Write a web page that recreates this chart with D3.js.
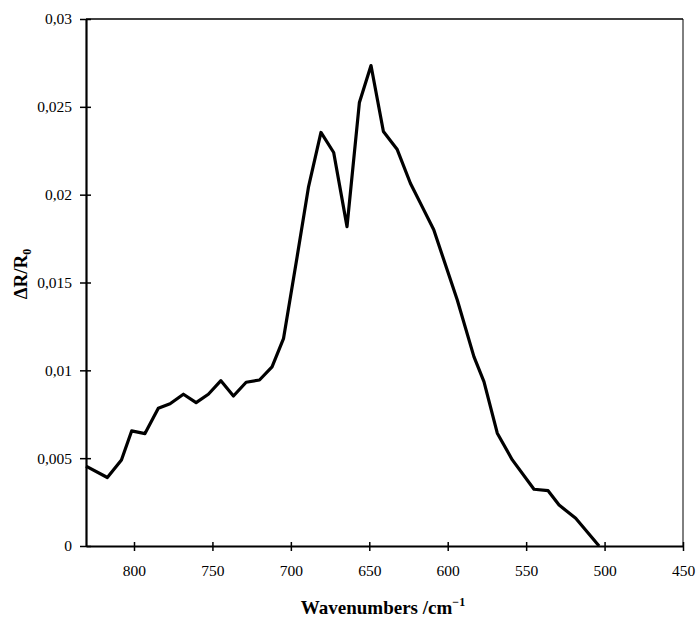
<!DOCTYPE html>
<html>
<head>
<meta charset="utf-8">
<script src="https://cdn.jsdelivr.net/npm/d3@7"></script>
<style>
  body { margin: 0; background: #fff; }
  text { font-family: "Liberation Serif", "DejaVu Serif", serif; fill: #000; }
</style>
</head>
<body>
<div id="chart"></div>
<script>
// spectrum
var wavenumbers = [830.6, 817, 808, 801.5, 793, 784.5, 777, 768.5, 760.4, 752.6, 744.6, 736.6, 728.5, 720, 712, 704.7,
  696, 688.7, 680.8, 672.7, 664.2, 656.3, 648.9, 641, 632.3, 623.8, 616.3, 608.9, 593.9, 583.3, 576.9, 568.4,
  558.8, 545, 536, 529, 518.4, 503.5];
var deltaR = [0.00455, 0.0039, 0.0049, 0.00655, 0.0064, 0.00784, 0.0081, 0.00864, 0.00816, 0.00864, 0.00941, 0.00854,
  0.00932, 0.00945, 0.0102, 0.0118, 0.01647, 0.02046, 0.02354, 0.0224, 0.01818, 0.02525, 0.02735, 0.0236, 0.02259,
  0.02065, 0.01932, 0.018, 0.014, 0.01078, 0.00936, 0.00642, 0.0049, 0.00323, 0.00315, 0.00233, 0.00158, 0];
var xTicks = [800, 750, 700, 650, 600, 550, 500, 450];
var yTicks = [0, 0.005, 0.01, 0.015, 0.02, 0.025, 0.03];

var W = 696, H = 620;
var mLeft = 86, mRight = 683, mTop = 19, mBottom = 546;

var svg = d3.select('#chart').append('svg').attr('width', W).attr('height', H);

var x = d3.scaleLinear().domain([830.6, 450]).range([mLeft, mRight]);
var y = d3.scaleLinear().domain([0, 0.03]).range([mBottom, mTop]);

var comma = function (d) { return String(+d.toFixed(3)).replace('.', ','); };

// frame: thin top and right
svg.append('line').attr('x1', mLeft).attr('x2', mRight).attr('y1', mTop).attr('y2', mTop)
  .attr('stroke', '#000').attr('stroke-width', 1.5);
svg.append('line').attr('x1', mRight).attr('x2', mRight).attr('y1', mTop).attr('y2', mBottom)
  .attr('stroke', '#000').attr('stroke-width', 1);

// x axis
var gx = svg.append('g').attr('transform', 'translate(0,' + mBottom + ')')
  .call(d3.axisBottom(x).tickValues(xTicks).tickSize(0).tickPadding(19));
gx.select('.domain').attr('stroke-width', 2.2);
gx.selectAll('.tick text').attr('font-size', 15.5).attr('font-family', '"Liberation Serif", serif');
gx.selectAll('.tick').append('line').attr('y1', -4).attr('y2', 5).attr('stroke', '#000').attr('stroke-width', 1.5);

// y axis
var gy = svg.append('g').attr('transform', 'translate(' + mLeft + ',0)')
  .call(d3.axisLeft(y).tickValues(yTicks).tickFormat(comma).tickSize(0).tickPadding(14));
gy.select('.domain').attr('stroke-width', 2.2);
gy.selectAll('.tick text').attr('font-size', 15.5).attr('font-family', '"Liberation Serif", serif');
gy.selectAll('.tick').append('line').attr('x1', -6).attr('x2', 5).attr('stroke', '#000').attr('stroke-width', 1.5);

// curve
var pts = wavenumbers.map(function (w, i) { return [w, deltaR[i]]; });
svg.append('path').datum(pts)
  .attr('fill', 'none').attr('stroke', '#000').attr('stroke-width', 3.2).attr('stroke-linejoin', 'round')
  .attr('d', d3.line().x(function (d) { return x(d[0]); }).y(function (d) { return y(d[1]); }));

// axis titles
var xt = svg.append('text').attr('x', 383).attr('y', 614).attr('text-anchor', 'middle')
  .attr('font-size', 19).attr('font-weight', 'bold');
xt.append('tspan').text('Wavenumbers /cm');
xt.append('tspan').attr('dy', -8).attr('font-size', 12).text('\u22121');

var yt = svg.append('text').attr('transform', 'translate(27,274) rotate(-90)').attr('text-anchor', 'middle')
  .attr('font-size', 19).attr('font-weight', 'bold');
yt.append('tspan').text('\u0394R/R');
yt.append('tspan').attr('dy', 4).attr('font-size', 12).text('0');
</script>
</body>
</html>
